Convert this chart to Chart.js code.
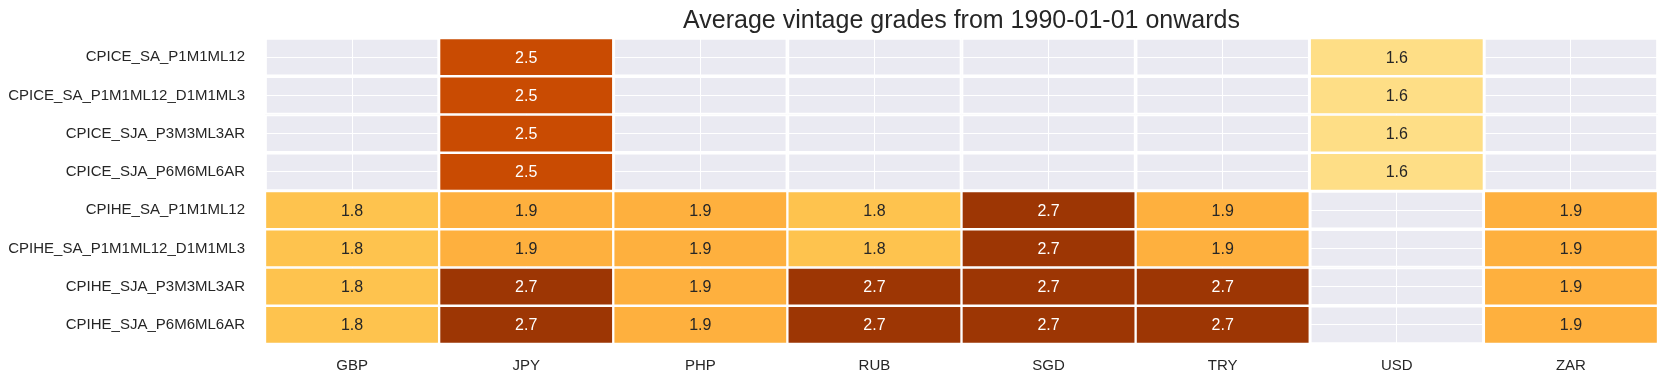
<!DOCTYPE html>
<html>
<head>
<meta charset="utf-8">
<script src="https://cdn.jsdelivr.net/npm/chart.js@4.4.1/dist/chart.umd.min.js"></script>
<style>
  html, body { margin: 0; padding: 0; background: #ffffff; }
  #wrap { width: 1668px; height: 381px; }
</style>
</head>
<body>
<div id="wrap"><canvas id="c" width="1668" height="381"></canvas></div>
<script>
// ---- data ----
const currencies = ['GBP', 'JPY', 'PHP', 'RUB', 'SGD', 'TRY', 'USD', 'ZAR'];
const indicators = [
  'CPICE_SA_P1M1ML12',
  'CPICE_SA_P1M1ML12_D1M1ML3',
  'CPICE_SJA_P3M3ML3AR',
  'CPICE_SJA_P6M6ML6AR',
  'CPIHE_SA_P1M1ML12',
  'CPIHE_SA_P1M1ML12_D1M1ML3',
  'CPIHE_SJA_P3M3ML3AR',
  'CPIHE_SJA_P6M6ML6AR'
];
const gradesCPICE_SA_P1M1ML12         = [null, 2.5, null, null, null, null, 1.6, null];
const gradesCPICE_SA_P1M1ML12_D1M1ML3 = [null, 2.5, null, null, null, null, 1.6, null];
const gradesCPICE_SJA_P3M3ML3AR       = [null, 2.5, null, null, null, null, 1.6, null];
const gradesCPICE_SJA_P6M6ML6AR       = [null, 2.5, null, null, null, null, 1.6, null];
const gradesCPIHE_SA_P1M1ML12         = [1.8, 1.9, 1.9, 1.8, 2.7, 1.9, null, 1.9];
const gradesCPIHE_SA_P1M1ML12_D1M1ML3 = [1.8, 1.9, 1.9, 1.8, 2.7, 1.9, null, 1.9];
const gradesCPIHE_SJA_P3M3ML3AR       = [1.8, 2.7, 1.9, 2.7, 2.7, 2.7, null, 1.9];
const gradesCPIHE_SJA_P6M6ML6AR       = [1.8, 2.7, 1.9, 2.7, 2.7, 2.7, null, 1.9];
const grades = [
  gradesCPICE_SA_P1M1ML12, gradesCPICE_SA_P1M1ML12_D1M1ML3,
  gradesCPICE_SJA_P3M3ML3AR, gradesCPICE_SJA_P6M6ML6AR,
  gradesCPIHE_SA_P1M1ML12, gradesCPIHE_SA_P1M1ML12_D1M1ML3,
  gradesCPIHE_SJA_P3M3ML3AR, gradesCPIHE_SJA_P6M6ML6AR
];
const titleText = 'Average vintage grades from 1990-01-01 onwards';

// ---- colour map (YlOrBr) ----
const ylOrBr = ['#ffffe5', '#fff7bc', '#fee391', '#fec44f', '#fe9929', '#ec7014', '#cc4c02', '#993404', '#662506'];
const vmin = 1.1, vmax = 2.95;
function hexToRgb(h) { return [parseInt(h.substr(1, 2), 16), parseInt(h.substr(3, 2), 16), parseInt(h.substr(5, 2), 16)]; }
function cmap(v) {
  let t = (v - vmin) / (vmax - vmin);
  t = Math.max(0, Math.min(1, t));
  const pos = t * (ylOrBr.length - 1);
  const i = Math.min(Math.floor(pos), ylOrBr.length - 2);
  const f = pos - i;
  const a = hexToRgb(ylOrBr[i]), b = hexToRgb(ylOrBr[i + 1]);
  return a.map((c, k) => Math.round(c + (b[k] - c) * f));
}
function rgbStr(c) { return 'rgb(' + c[0] + ',' + c[1] + ',' + c[2] + ')'; }
function luminance(c) {
  const l = c.map(x => { x /= 255; return x <= 0.03928 ? x / 12.92 : Math.pow((x + 0.055) / 1.055, 2.4); });
  return 0.2126 * l[0] + 0.7152 * l[1] + 0.0722 * l[2];
}

const FONT = '"Liberation Sans", Arial, sans-serif';
const TEXT_DARK = '#262626';

const datasets = indicators.map((name, r) => ({
  label: name,
  data: currencies.map(() => [r, r + 1]),
  grades: grades[r],
  backgroundColor: (ctx) => {
    const v = grades[r][ctx.dataIndex];
    return v == null ? 'rgba(0,0,0,0)' : rgbStr(cmap(v));
  },
  borderColor: '#ffffff',
  borderWidth: 1.5,
  borderSkipped: false,
  barPercentage: 1.0,
  categoryPercentage: 1.0,
  grouped: false
}));

const bgPlugin = {
  id: 'bg',
  beforeDraw(chart) {
    const { ctx, chartArea: a } = chart;
    ctx.save();
    ctx.fillStyle = '#eaeaf2';
    ctx.fillRect(a.left, a.top, a.right - a.left, a.bottom - a.top);
    ctx.restore();
  }
};

const labelPlugin = {
  id: 'cellLabels',
  afterDatasetsDraw(chart) {
    const { ctx } = chart;
    ctx.save();
    ctx.font = '16px ' + FONT;
    ctx.textAlign = 'center';
    ctx.textBaseline = 'middle';
    chart.data.datasets.forEach((ds, di) => {
      const meta = chart.getDatasetMeta(di);
      meta.data.forEach((el, i) => {
        const v = ds.grades[i];
        if (v == null) return;
        const c = cmap(v);
        ctx.fillStyle = luminance(c) > 0.408 ? TEXT_DARK : '#ffffff';
        const p = el.getProps(['x', 'y', 'base'], true);
        ctx.fillText(v.toFixed(1), p.x, (p.y + p.base) / 2 + 1);
      });
    });
    ctx.restore();
  }
};

const titlePlugin = {
  id: 'customTitle',
  afterDraw(chart) {
    const { ctx, chartArea: a } = chart;
    ctx.save();
    ctx.font = '25px ' + FONT;
    ctx.fillStyle = TEXT_DARK;
    ctx.textAlign = 'center';
    ctx.textBaseline = 'alphabetic';
    ctx.fillText(titleText, (a.left + a.right) / 2, 28);
    ctx.restore();
  }
};

new Chart(document.getElementById('c'), {
  type: 'bar',
  data: { labels: currencies, datasets },
  options: {
    responsive: false,
    animation: false,
    devicePixelRatio: 1,
    layout: { padding: { top: 38, right: 10, left: 0, bottom: 0 } },
    plugins: { legend: { display: false }, tooltip: { enabled: false }, title: { display: false } },
    scales: {
      x: {
        type: 'category',
        offset: true,
        grid: { offset: false, color: '#ffffff', lineWidth: 1, drawTicks: false },
        border: { display: false },
        ticks: { color: TEXT_DARK, font: { family: FONT, size: 15 }, padding: 13, maxRotation: 0 },
        afterFit(s) { s.height = 37; }
      },
      y: {
        type: 'linear',
        min: 0,
        max: indicators.length,
        reverse: true,
        grid: { color: '#ffffff', lineWidth: 1, drawTicks: false },
        border: { display: false },
        afterBuildTicks(s) { s.ticks = indicators.map((_, i) => ({ value: i + 0.5 })); },
        ticks: {
          color: TEXT_DARK,
          font: { family: FONT, size: 15 },
          padding: 20,
          autoSkip: false,
          callback: (v) => indicators[Math.floor(v)]
        },
        afterFit(s) { s.width = 265; }
      }
    }
  },
  plugins: [bgPlugin, labelPlugin, titlePlugin]
});
</script>
</body>
</html>
